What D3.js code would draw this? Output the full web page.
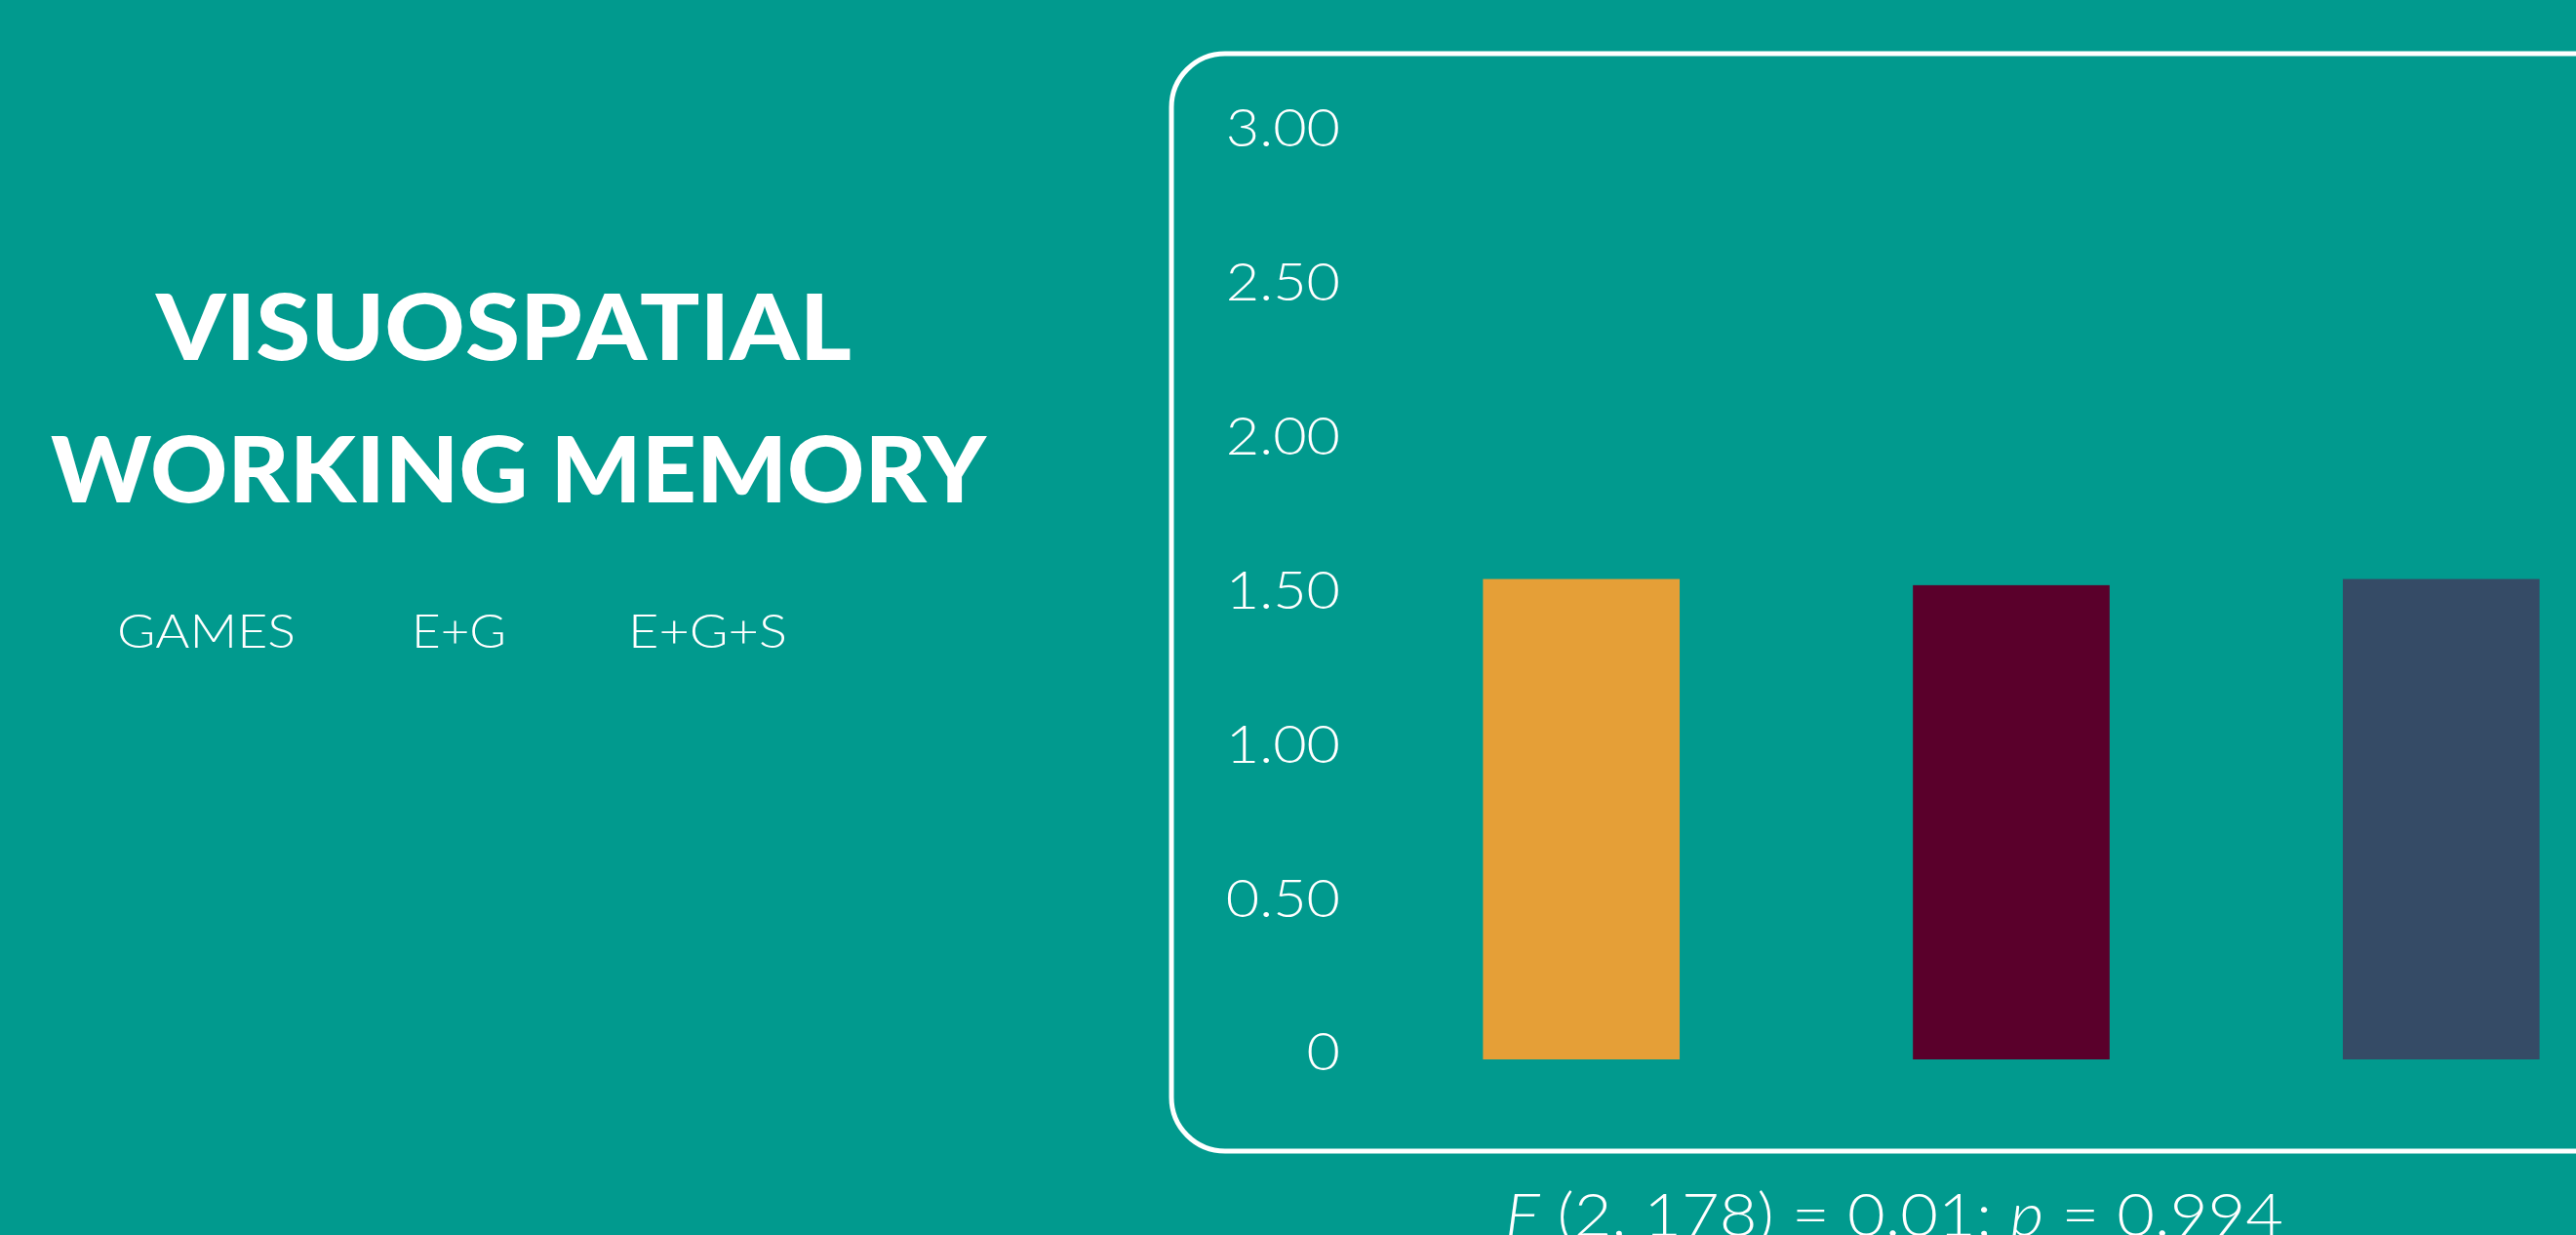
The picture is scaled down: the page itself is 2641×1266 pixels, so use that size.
<!DOCTYPE html>
<html>
<head>
<meta charset="utf-8">
<script src="https://cdn.jsdelivr.net/npm/d3@7"></script>
<style>
  html, body { margin: 0; padding: 0; background: #019a8e; overflow: hidden; }
  text { fill: #ffffff; font-family: "Lato", "Open Sans", sans-serif; }
</style>
</head>
<body>
<div id="chart"></div>
<script>
// data
var groups = ["GAMES", "E+G", "E+G+S"];
var means = [1.56, 1.54, 1.56];
var barColors = ["#e59f37", "#5a002b", "#354b66"];
var yTicks = [0, 0.5, 1, 1.5, 2, 2.5, 3];
var titleLines = ["VISUOSPATIAL", "WORKING MEMORY"];

// canvas
var W = 2641, H = 1266;
var svg = d3.select("#chart")
    .append("svg")
    .attr("width", W)
    .attr("height", H);

svg.append("rect")
    .attr("width", W)
    .attr("height", H)
    .attr("fill", "#019a8e");

// title
var titleX = [160, 52], titleY = [369, 515], titleW = [713, 959];
svg.selectAll(".title")
    .data(titleLines)
    .enter().append("text")
    .attr("class", "title")
    .attr("x", function (d, i) { return titleX[i]; })
    .attr("y", function (d, i) { return titleY[i]; })
    .attr("textLength", function (d, i) { return titleW[i]; })
    .attr("lengthAdjust", "spacingAndGlyphs")
    .style("font-size", "93px")
    .style("font-weight", 900)
    .text(function (d) { return d; });

// legend labels (text only)
var legendX = [120, 422, 644], legendW = [183, 97, 163];
svg.selectAll(".legend")
    .data(groups)
    .enter().append("text")
    .attr("class", "legend")
    .attr("x", function (d, i) { return legendX[i]; })
    .attr("y", 664)
    .attr("textLength", function (d, i) { return legendW[i]; })
    .attr("lengthAdjust", "spacingAndGlyphs")
    .style("font-size", "47px")
    .style("font-weight", 300)
    .text(function (d) { return d; });

// frame with rounded corners, running off the right edge
svg.append("rect")
    .attr("x", 1201)
    .attr("y", 55)
    .attr("width", 1600)
    .attr("height", 1125)
    .attr("rx", 55)
    .attr("ry", 55)
    .attr("fill", "none")
    .attr("stroke", "#ffffff")
    .attr("stroke-width", 5);

// scales
var y = d3.scaleLinear()
    .domain([0, 3])
    .range([1086, 139]);

var x = d3.scaleBand()
    .domain(groups)
    .range([1300, 2824])
    .paddingInner(0.5425)
    .paddingOuter(0.5);

// bars
svg.selectAll(".bar")
    .data(groups)
    .enter().append("rect")
    .attr("class", "bar")
    .attr("x", function (d) { return x(d); })
    .attr("width", x.bandwidth())
    .attr("y", function (d, i) { return y(means[i]); })
    .attr("height", function (d, i) { return y(0) - y(means[i]); })
    .attr("fill", function (d, i) { return barColors[i]; });

// y axis
var yAxis = svg.append("g")
    .attr("transform", "translate(1374,-6)")
    .call(d3.axisLeft(y)
        .tickValues(yTicks)
        .tickSize(0)
        .tickPadding(0)
        .tickFormat(function (d) { return d === 0 ? "0" : d.toFixed(2); }));
yAxis.select(".domain").remove();
yAxis.selectAll("text")
    .attr("fill", "#ffffff")
    .style("font-family", "Lato, 'Open Sans', sans-serif")
    .style("font-size", "53px")
    .style("font-weight", 300)
    .each(function () {
        // the original face is a little wider than Lato
        var len = this.getComputedTextLength();
        d3.select(this)
            .attr("textLength", len * 1.12)
            .attr("lengthAdjust", "spacingAndGlyphs");
    });

// statistics line
var stat = svg.append("text")
    .attr("x", 1543)
    .attr("y", 1267)
    .attr("textLength", 798)
    .attr("lengthAdjust", "spacingAndGlyphs")
    .style("font-size", "61px")
    .style("font-weight", 300);
stat.append("tspan").style("font-style", "italic").text("F");
stat.append("tspan").text(" (2, 178) = 0.01; ");
stat.append("tspan").style("font-style", "italic").text("p");
stat.append("tspan").text(" = 0.994");
</script>
</body>
</html>
